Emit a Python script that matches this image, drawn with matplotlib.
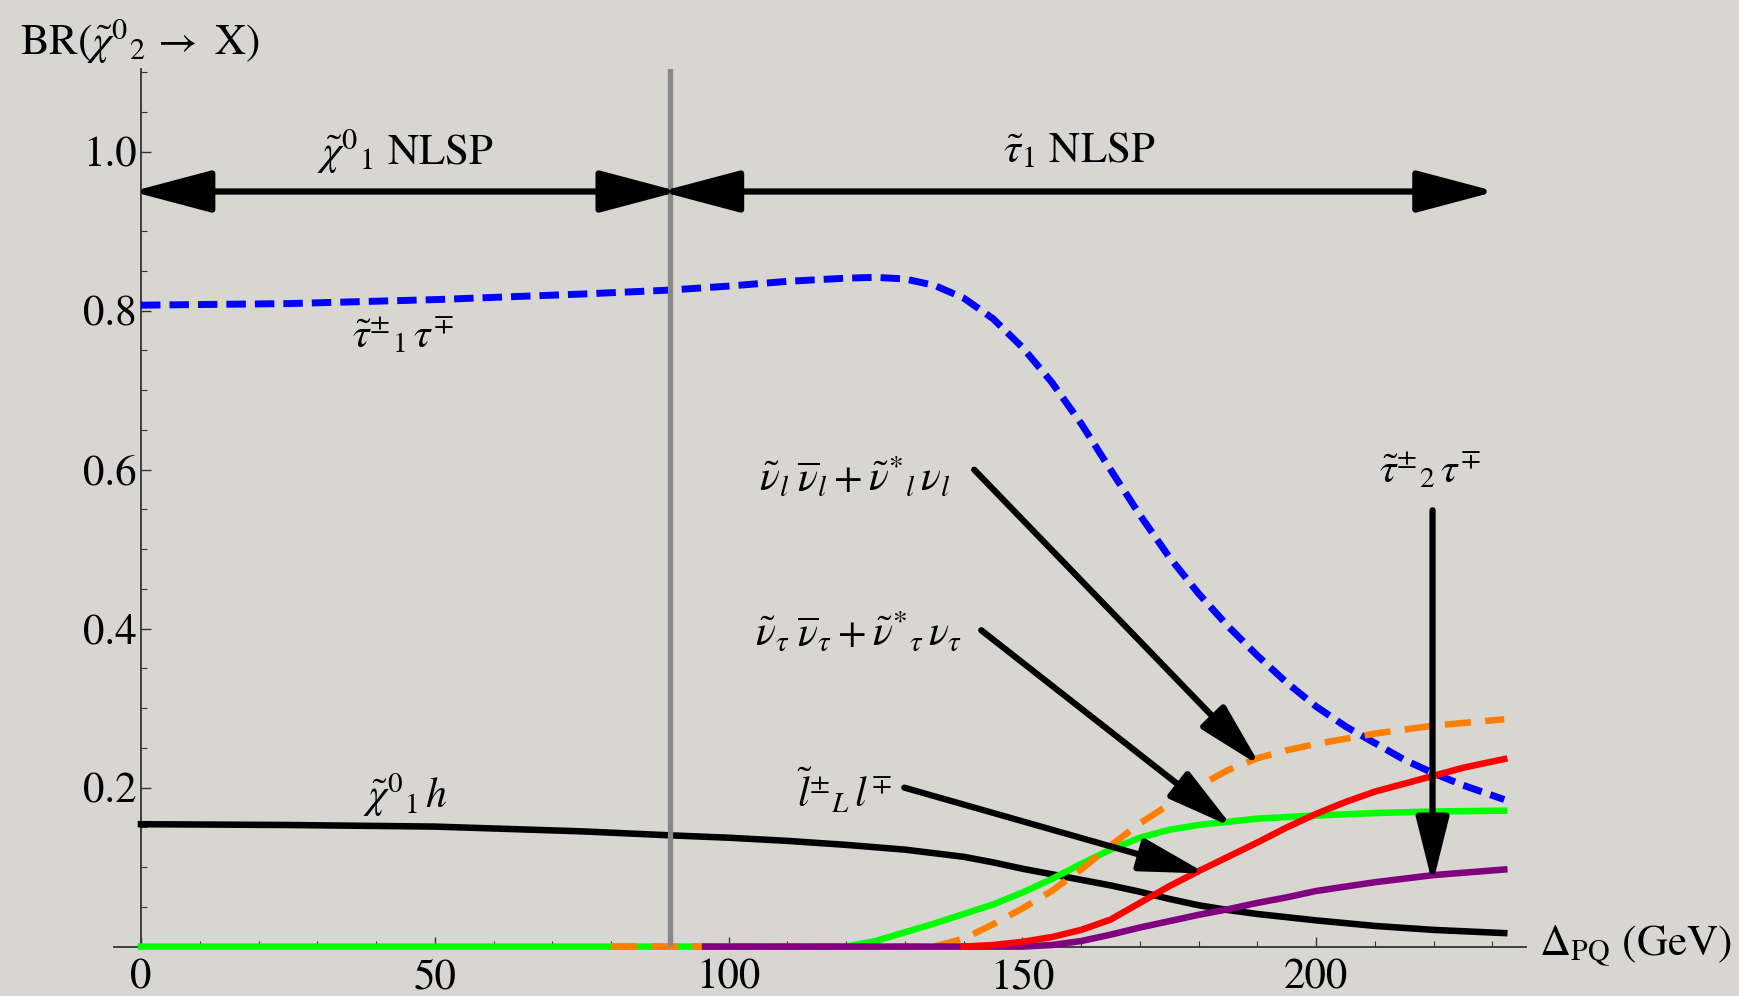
import matplotlib
matplotlib.use('Agg')
import matplotlib.pyplot as plt
import numpy as np
from matplotlib.ticker import MultipleLocator, FixedLocator

plt.rcParams['font.family'] = ['STIXGeneral', 'Liberation Serif', 'DejaVu Serif']
plt.rcParams['mathtext.fontset'] = 'stix'

# branching ratios
blue_x = [0, 25, 50, 75, 90, 100, 110, 120, 125, 130, 135, 140, 145, 150, 155, 160, 165, 170,
          175, 180, 185, 190, 195, 200, 205, 210, 215, 220, 225, 232]
blue_y = [0.807, 0.809, 0.814, 0.821, 0.826, 0.831, 0.837, 0.841, 0.842, 0.840, 0.832, 0.816,
          0.790, 0.754, 0.710, 0.658, 0.600, 0.543, 0.490, 0.444, 0.403, 0.366, 0.332, 0.302,
          0.277, 0.256, 0.235, 0.218, 0.203, 0.185]

black_x = [0, 25, 50, 75, 90, 100, 110, 120, 130, 140, 145, 150, 155, 160, 165, 170, 175, 180,
           185, 190, 200, 210, 220, 232]
black_y = [0.154, 0.153, 0.151, 0.145, 0.140, 0.137, 0.133, 0.128, 0.122, 0.113, 0.106, 0.098,
           0.091, 0.084, 0.077, 0.069, 0.060, 0.052, 0.046, 0.041, 0.033, 0.026, 0.021, 0.017]

green_x = [0, 120, 125, 130, 135, 140, 145, 150, 155, 160, 165, 170, 175, 180, 185, 190, 200,
           210, 220, 232]
green_y = [0.0, 0.0, 0.007, 0.018, 0.029, 0.041, 0.053, 0.068, 0.085, 0.104, 0.122, 0.137,
           0.147, 0.153, 0.157, 0.161, 0.165, 0.168, 0.170, 0.171]

orange_x = [80, 135, 140, 145, 150, 155, 160, 165, 170, 175, 180, 185, 190, 195, 200, 210, 220, 232]
orange_y = [0.0, 0.0, 0.010, 0.028, 0.048, 0.070, 0.097, 0.127, 0.155, 0.179, 0.202, 0.222,
            0.237, 0.247, 0.255, 0.268, 0.278, 0.286]

purple_x = [96, 150, 155, 160, 165, 170, 175, 180, 185, 190, 195, 200, 210, 220, 232]
purple_y = [0.0, 0.0, 0.002, 0.007, 0.015, 0.024, 0.032, 0.040, 0.047, 0.055, 0.062, 0.070,
            0.081, 0.090, 0.097]

red_x = [140, 145, 150, 155, 160, 165, 170, 175, 180, 185, 190, 195, 200, 205, 210, 215, 220, 225, 232]
red_y = [0.0, 0.002, 0.006, 0.012, 0.021, 0.034, 0.055, 0.076, 0.095, 0.113, 0.131, 0.150,
         0.167, 0.182, 0.195, 0.205, 0.215, 0.225, 0.236]

x_ticks = [0, 50, 100, 150, 200]
y_ticks = [0.2, 0.4, 0.6, 0.8, 1.0]
nlsp_boundary = 90
x_end = 229


def arrow(ax, start, end, props, both=False, tip_px=9):
    # matplotlib's stroked head stops a few pixels short of the point; push it out
    t = ax.transData
    s = np.array(t.transform(start))
    e = np.array(t.transform(end))
    d = (e - s) / np.hypot(*(e - s))
    e = e + d * tip_px
    if both:
        s = s - d * tip_px
    inv = t.inverted()
    ax.annotate('', xy=inv.transform(e), xytext=inv.transform(s), arrowprops=props, zorder=5)


def main():
    bg = '#d8d6d1'
    fig = plt.figure(figsize=(17.4, 9.96), dpi=100, facecolor=bg)
    ax = fig.add_axes([0.0655, 0.0496, 0.8115, 0.881])
    ax.set_facecolor(bg)

    lw = 4.7
    ax.plot(blue_x, blue_y, color='#0000ff', lw=5, dashes=(2.8, 1.3), clip_on=False, zorder=3)
    ax.plot(black_x, black_y, color='black', lw=lw, clip_on=False, zorder=3)
    ax.plot(green_x, green_y, color='#00ff00', lw=lw, clip_on=False, zorder=3)
    ax.plot(orange_x, orange_y, color='#ff7f00', lw=lw, dashes=(4, 2.2), clip_on=False, zorder=3)
    ax.plot(purple_x, purple_y, color='#800080', lw=lw, clip_on=False, zorder=3)
    ax.plot(red_x, red_y, color='#ff0000', lw=lw, clip_on=False, zorder=3)

    ax.axvline(nlsp_boundary, color='#888888', lw=3.8, zorder=4)

    ax.set_xlim(-4.6, 235.7)
    ax.set_ylim(0, 1.104)
    ax.spines['top'].set_visible(False)
    ax.spines['right'].set_visible(False)
    ax.spines['left'].set_position(('data', 0))
    for s in ('left', 'bottom'):
        ax.spines[s].set_color('#333333')
        ax.spines[s].set_linewidth(1.3)

    ax.xaxis.set_major_locator(FixedLocator(x_ticks))
    ax.xaxis.set_minor_locator(MultipleLocator(10))
    ax.yaxis.set_major_locator(FixedLocator(y_ticks))
    ax.yaxis.set_minor_locator(MultipleLocator(0.05))
    ax.set_yticklabels(['0.2', '0.4', '0.6', '0.8', '1.0'])
    ax.tick_params(which='both', direction='in', color='#333333', labelsize=31)
    ax.tick_params(which='major', length=7, width=1)
    ax.tick_params(which='minor', length=4, width=0.8)
    ax.tick_params(axis='x', pad=9)
    ax.tick_params(axis='y', pad=3)

    # NLSP region arrows
    big = dict(arrowstyle='<|-|>,head_length=4.9,head_width=1.3', lw=4.5, color='black',
               shrinkA=0, shrinkB=0, mutation_scale=10)
    arrow(ax, (nlsp_boundary, 0.95), (0, 0.95), big, both=True)
    arrow(ax, (nlsp_boundary, 0.95), (x_end, 0.95), big, both=True)
    ax.text(45, 1.0, r'$\tilde{\chi}^{0}{}_{1}$ NLSP', fontsize=31, ha='center', va='center')
    ax.text(159.6, 1.0, r'$\tilde{\tau}_{1}$ NLSP', fontsize=31, ha='center', va='center')

    # curve labels
    fs = 30
    ax.text(44.6, 0.767, r'$\tilde{\tau}^{\pm}{}_{1}\,\tau^{\mp}$', fontsize=fs, ha='center', va='center')
    ax.text(45, 0.19, r'$\tilde{\chi}^{0}{}_{1}\,h$', fontsize=fs, ha='center', va='center')
    ax.text(137.7, 0.59, r'$\tilde{\nu}_{l}\;\overline{\nu}_{l} + \tilde{\nu}^{*}{}_{l}\,\nu_{l}$',
            fontsize=fs, ha='right', va='center')
    ax.text(139.7, 0.394, r'$\tilde{\nu}_{\tau}\;\overline{\nu}_{\tau} + \tilde{\nu}^{*}{}_{\tau}\,\nu_{\tau}$',
            fontsize=fs, ha='right', va='center')
    ax.text(119.7, 0.195, r'$\tilde{l}^{\pm}{}_{L}\,l^{\mp}$', fontsize=fs, ha='center', va='center')
    ax.text(219.4, 0.597, r'$\tilde{\tau}^{\pm}{}_{2}\,\tau^{\mp}$', fontsize=fs, ha='center', va='center')

    small = dict(arrowstyle='-|>,head_length=4.0,head_width=1.0', lw=4.5, color='black',
                 shrinkA=0, shrinkB=0, mutation_scale=10)
    pointers = [((141.8, 0.600), (189.5, 0.235)),
                ((143.0, 0.398), (184.6, 0.157)),
                ((129.9, 0.200), (179.8, 0.095)),
                ((219.8, 0.549), (219.8, 0.090))]
    for start, end in pointers:
        arrow(ax, start, end, small)

    ax.text(238, 0.0, r'$\Delta_{\mathrm{PQ}}$ (GeV)', fontsize=31, ha='left', va='center',
            clip_on=False)
    fig.text(20 / 1740, 1 - 41 / 996, r'BR($\tilde{\chi}^{0}{}_{2}\,\rightarrow$ X)', fontsize=31,
             ha='left', va='center')

    fig.savefig('out.png', dpi=100, facecolor=bg)


if __name__ == '__main__':
    main()
